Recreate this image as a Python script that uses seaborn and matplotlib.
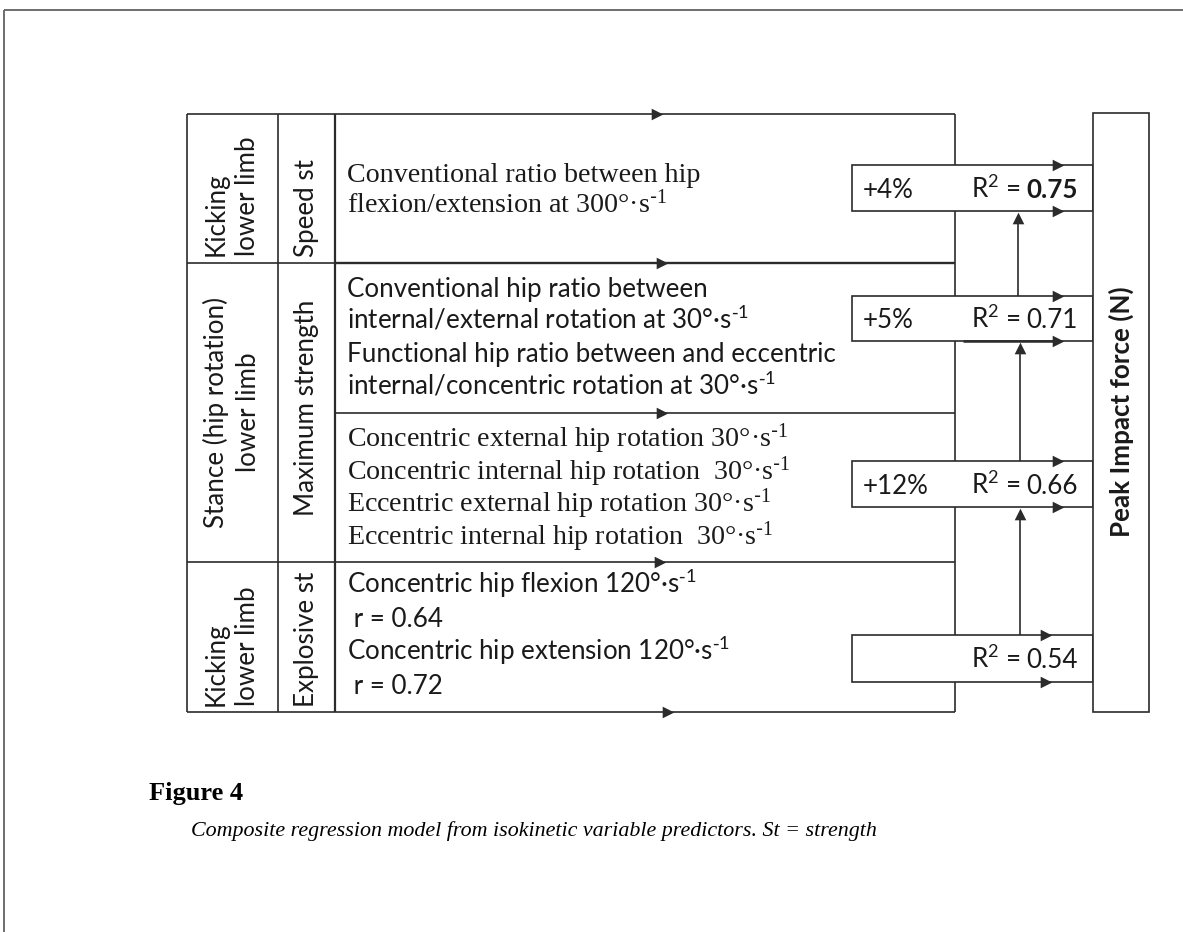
import matplotlib
matplotlib.use("Agg")
import matplotlib.pyplot as plt
from matplotlib.patches import Rectangle
import seaborn as sns
import pandas as pd

# ------------------------------------------------------------------ content
limb_labels = ["Kicking\nlower limb", "Stance (hip rotation)\nlower limb", "Kicking\nlower limb"]
limb_align = ["left", "center", "left"]
strength_labels = ["Speed st", "Maximum strength", "Explosive st"]

SUP = r"$\mathregular{^{\text{-}1}}$"
speed_predictors = ["Conventional ratio between hip",
                    "flexion/extension at 300°·s" + SUP]
ratio_predictors = ["Conventional hip ratio between",
                    "internal/external rotation at 30°·s" + SUP,
                    "Functional hip ratio between and eccentric",
                    "internal/concentric rotation at 30°·s" + SUP]
max_predictors = ["Concentric external hip rotation 30°·s" + SUP,
                  "Concentric internal hip rotation  30°·s" + SUP,
                  "Eccentric external hip rotation 30°·s" + SUP,
                  "Eccentric internal hip rotation  30°·s" + SUP]
explosive_predictors = ["Concentric hip flexion 120°·s" + SUP,
                        "Concentric hip extension 120°·s" + SUP]
r_values = [0.64, 0.72]

increments = ["+4%", "+5%", "+12%", ""]
r2_values = ["0.75", "0.71", "0.66", "0.54"]
r2_bold = [True, False, False, False]
outcome_label = "Peak Impact force (N)"
figure_label = "Figure 4"
caption = "Composite regression model from isokinetic variable predictors. St = strength"

# ------------------------------------------------------------------ layout (pixels)
W, H = 1183, 932
TAB_L, COL1, COL2, TAB_R = 187, 278, 335, 955
ROWS = [114, 263, 562, 712]          # limb / strength rows
SUBROW = 413                           # divider inside "Maximum strength"
BOX_L, BOX_R = 852, 1093
BOXES = [(165, 211), (296, 341), (461, 507), (635, 682)]
PEAK = (1093, 1149, 113, 712)
TXT_X = 347
LINE_C = "#2b2b2b"
TXT_C = "#1a1a1a"

sns.set_theme(style="white")
plt.rcParams["font.family"] = ["Lato", "DejaVu Sans"]
SANS = ["Lato", "DejaVu Sans"]
SERIF = ["Liberation Serif", "DejaVu Serif"]
FS = 18.7
FSS = 20.2

fig = plt.figure(figsize=(W / 100, H / 100), dpi=100)
ax = fig.add_axes([0, 0, 1, 1])
ax.set_xlim(0, W)
ax.set_ylim(H, 0)
ax.axis("off")


def seg(x0, y0, x1, y1, lw=1.2, z=2, c=LINE_C):
    ax.plot([x0, x1], [y0, y1], color=c, lw=lw, solid_capstyle="butt", zorder=z)


# page frame
seg(4, 10, W, 10, lw=1.2, c="#555555")
seg(4, 10, 4, H, lw=1.2, c="#555555")

# table grid
seg(TAB_L, ROWS[0], TAB_R, ROWS[0])
seg(TAB_L, ROWS[-1], TAB_R, ROWS[-1])
seg(TAB_L, ROWS[0], TAB_L, ROWS[-1])
seg(TAB_R, ROWS[0], TAB_R, ROWS[-1])
seg(COL1, ROWS[0], COL1, ROWS[-1])
seg(COL2, ROWS[0], COL2, ROWS[-1], lw=1.6)
seg(TAB_L, ROWS[1], COL2, ROWS[1])
seg(COL2, ROWS[1], TAB_R, ROWS[1], lw=1.7)
seg(TAB_L, ROWS[2], TAB_R, ROWS[2])
seg(COL2, SUBROW, TAB_R, SUBROW)

# R2 boxes (white, drawn on top of the table edge)
for (y0, y1) in BOXES:
    ax.add_patch(Rectangle((BOX_L, y0), BOX_R - BOX_L, y1 - y0, facecolor="white",
                           edgecolor=LINE_C, lw=1.2, zorder=3))
seg(963, BOXES[1][1], 1060, BOXES[1][1], lw=1.8, z=4)

# outcome box
ax.add_patch(Rectangle((PEAK[0], PEAK[2]), PEAK[1] - PEAK[0], PEAK[3] - PEAK[2],
                       facecolor="white", edgecolor=LINE_C, lw=1.2, zorder=3))

# vertical arrows between models
ups = pd.DataFrame({"x": [1018, 1020, 1020], "y0": [296, 461, 635], "y1": [218, 348, 514]})
for _, r in ups.iterrows():
    seg(r.x, r.y0, r.x, r.y1, lw=1.2, z=4)
sns.scatterplot(data=ups, x="x", y="y1", marker="^", s=70, color=LINE_C,
                edgecolor=LINE_C, linewidth=0, zorder=5, ax=ax, legend=False)

# horizontal arrowheads
heads = pd.DataFrame({
    "x": [657, 662, 662, 660, 668, 1058, 1058, 1058, 1058, 1058, 1058, 1046, 1046],
    "y": [ROWS[0], ROWS[1], SUBROW, ROWS[2], ROWS[3],
          BOXES[0][0], BOXES[0][1], BOXES[1][0], BOXES[1][1],
          BOXES[2][0], BOXES[2][1], BOXES[3][0], BOXES[3][1]],
})
sns.scatterplot(data=heads, x="x", y="y", marker=">", s=70, color=LINE_C,
                edgecolor=LINE_C, linewidth=0, zorder=5, ax=ax, legend=False)
ax.set_xlim(0, W)
ax.set_ylim(H, 0)
ax.set_xlabel("")
ax.set_ylabel("")

# rotated row labels
for lab, yc, al in zip(limb_labels, [196, 412, 646], limb_align):
    ax.text(232, yc, lab, rotation=90, ha="center", va="center", multialignment=al,
            family=SANS, fontsize=FS, color=TXT_C, linespacing=1.35)
for lab, yc in zip(strength_labels, [208, 408, 639]):
    ax.text(307, yc, lab, rotation=90, ha="center", va="center",
            family=SANS, fontsize=FS, color=TXT_C)
ax.text(1121, 412, outcome_label, rotation=90, ha="center", va="center",
        family=SANS, fontsize=FS, fontweight="bold", color=TXT_C, zorder=6)

# predictor texts
for t, yb in zip(speed_predictors, [182, 213]):
    ax.text(TXT_X, yb, t, family=SERIF, fontsize=FSS, va="baseline", color=TXT_C)
for t, yb in zip(ratio_predictors, [297, 329, 362, 394]):
    ax.text(TXT_X, yb, t, family=SANS, fontsize=FS, va="baseline", color=TXT_C)
for t, yb in zip(max_predictors, [447, 480, 512, 545]):
    ax.text(TXT_X, yb, t, family=SERIF, fontsize=FSS, va="baseline", color=TXT_C)
expl_lines = [explosive_predictors[0], f" r = {r_values[0]:.2f}",
              explosive_predictors[1], f" r = {r_values[1]:.2f}"]
for t, yb in zip(expl_lines, [593, 627, 660, 694]):
    ax.text(TXT_X, yb, t, family=SANS, fontsize=FS, va="baseline", color=TXT_C)

# model boxes text
for (y0, y1), inc, r2, b in zip(BOXES, increments, r2_values, r2_bold):
    yb = (y0 + y1) / 2 + 9.5
    ax.text(863, yb, inc, family=SANS, fontsize=FS, va="baseline", color=TXT_C, zorder=6)
    tv = ax.text(1078, yb, r2, family=SANS, fontsize=FS, va="baseline", ha="right",
                 fontweight="bold" if b else "normal", color=TXT_C, zorder=6)
    ax.annotate(r"R$\mathregular{^2}$ =", xy=(0, yb), xycoords=(tv, "data"),
                xytext=(-4.5, 0), textcoords="offset points",
                ha="right", va="baseline",
                family=SANS, fontsize=FS, color=TXT_C, zorder=6)

# caption
ax.text(149, 800, figure_label, family=SERIF, fontsize=19, fontweight="bold",
        va="baseline", color="black")
ax.text(191, 836, caption, family=SERIF, fontsize=15.8, style="italic",
        va="baseline", color="black")

fig.savefig("out.png", dpi=100, facecolor="white")
